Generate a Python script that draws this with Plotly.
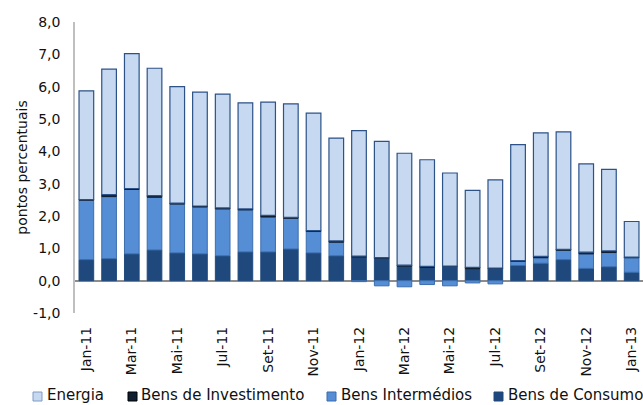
import plotly.graph_objects as go

months = ["Jan-11","Fev-11","Mar-11","Abr-11","Mai-11","Jun-11","Jul-11","Ago-11","Set-11","Out-11","Nov-11","Dez-11",
          "Jan-12","Fev-12","Mar-12","Abr-12","Mai-12","Jun-12","Jul-12","Ago-12","Set-12","Out-12","Nov-12","Dez-12","Jan-13"]
tick_labels = ["Jan-11","Mar-11","Mai-11","Jul-11","Set-11","Nov-11","Jan-12","Mar-12","Mai-12","Jul-12","Set-12","Nov-12","Jan-13"]
y_tick_vals = [-1, 0, 1, 2, 3, 4, 5, 6, 7, 8]
y_tick_text = ["-1,0","0,0","1,0","2,0","3,0","4,0","5,0","6,0","7,0","8,0"]

consumo = [0.65,0.68,0.83,0.95,0.86,0.83,0.77,0.89,0.89,0.98,0.86,0.77,
           0.73,0.70,0.45,0.41,0.44,0.37,0.38,0.47,0.54,0.65,0.38,0.43,0.26]
intermedios = [1.84,1.92,1.99,1.63,1.51,1.45,1.45,1.30,1.08,0.95,0.66,0.42,
               -0.03,-0.16,-0.19,-0.12,-0.16,-0.07,-0.10,0.13,0.17,0.29,0.45,0.44,0.45]
investimento = [0.02,0.06,0.03,0.05,0.03,0.03,0.03,0.03,0.05,0.03,0.03,0.04,
                0.03,0.01,0.03,0.03,0.01,0.04,0.01,0.02,0.04,0.03,0.05,0.05,0.02]
energia = [3.36,3.88,4.17,3.94,3.60,3.52,3.52,3.28,3.50,3.51,3.63,3.18,
           3.88,3.60,3.46,3.30,2.88,2.38,2.73,3.59,3.82,3.63,2.73,2.52,1.10]

series = [
    ("Bens de Consumo", consumo, "#1F497D", "#1F497D"),
    ("Bens Intermédios", intermedios, "#558ED5", "#3B6DAE"),
    ("Bens de Investimento", investimento, "#0F1E30", "#0F1E30"),
    ("Energia", energia, "#C6D9F1", "#2C5287"),
]

fig = go.Figure()
for name, vals, fill, edge in series:
    fig.add_trace(go.Bar(x=months, y=vals, name=name, showlegend=False,
                         marker=dict(color=fill, line=dict(color=edge, width=1.2 if name == "Energia" else 1))))

W, H = 643, 405
L, R, T, B = 75, 0, 22, 92
pw, ph = W - L - R, H - T - B

def px(x):
    return (x - L) / pw

def py(y):
    return (H - B - y) / ph

# manual legend (order: Energia, Investimento, Intermédios, Consumo)
legend_items = [
    ("Energia", "#C6D9F1", "#7F9CC4", 33, 46),
    ("Bens de Investimento", "#0F1E30", "#000000", 128, 140),
    ("Bens Intermédios", "#558ED5", "#3B6DAE", 327, 340),
    ("Bens de Consumo", "#1F497D", "#1F497D", 494, 507),
]
shapes = []
annotations = []
for label, fill, edge, sx, tx in legend_items:
    shapes.append(dict(type="rect", xref="paper", yref="paper",
                       x0=px(sx), x1=px(sx + 9), y0=py(401), y1=py(392),
                       fillcolor=fill, line=dict(color=edge, width=1)))
    annotations.append(dict(text=label, xref="paper", yref="paper", x=px(tx), y=py(405),
                            xanchor="left", yanchor="bottom", showarrow=False,
                            borderpad=0,
                            font=dict(family="DejaVu Sans", size=15, color="#111111")))

fig.update_layout(
    barmode="relative",
    bargap=0.355,
    width=W, height=H,
    margin=dict(l=L, r=R, t=T, b=B),
    paper_bgcolor="white", plot_bgcolor="white",
    font=dict(family="DejaVu Sans", size=14, color="#111111"),
    showlegend=False,
    shapes=shapes,
    annotations=annotations,
)
fig.update_yaxes(range=[-1, 8], tickmode="array", tickvals=y_tick_vals, ticktext=y_tick_text,
                 showgrid=False, showline=True, linecolor="#BFBFBF", linewidth=1.5,
                 zeroline=True, zerolinecolor="#8C8C8C", zerolinewidth=1.5,
                 ticks="", ticklabelstandoff=10,
                 title=dict(text="pontos percentuais", font=dict(size=14), standoff=2),
                 tickfont=dict(size=14))
fig.update_xaxes(tickmode="array", tickvals=tick_labels, ticktext=tick_labels,
                 tickangle=-90, showgrid=False, showline=False, ticks="",
                 ticklabelstandoff=10, tickfont=dict(size=14))

fig.write_html("out.html")
